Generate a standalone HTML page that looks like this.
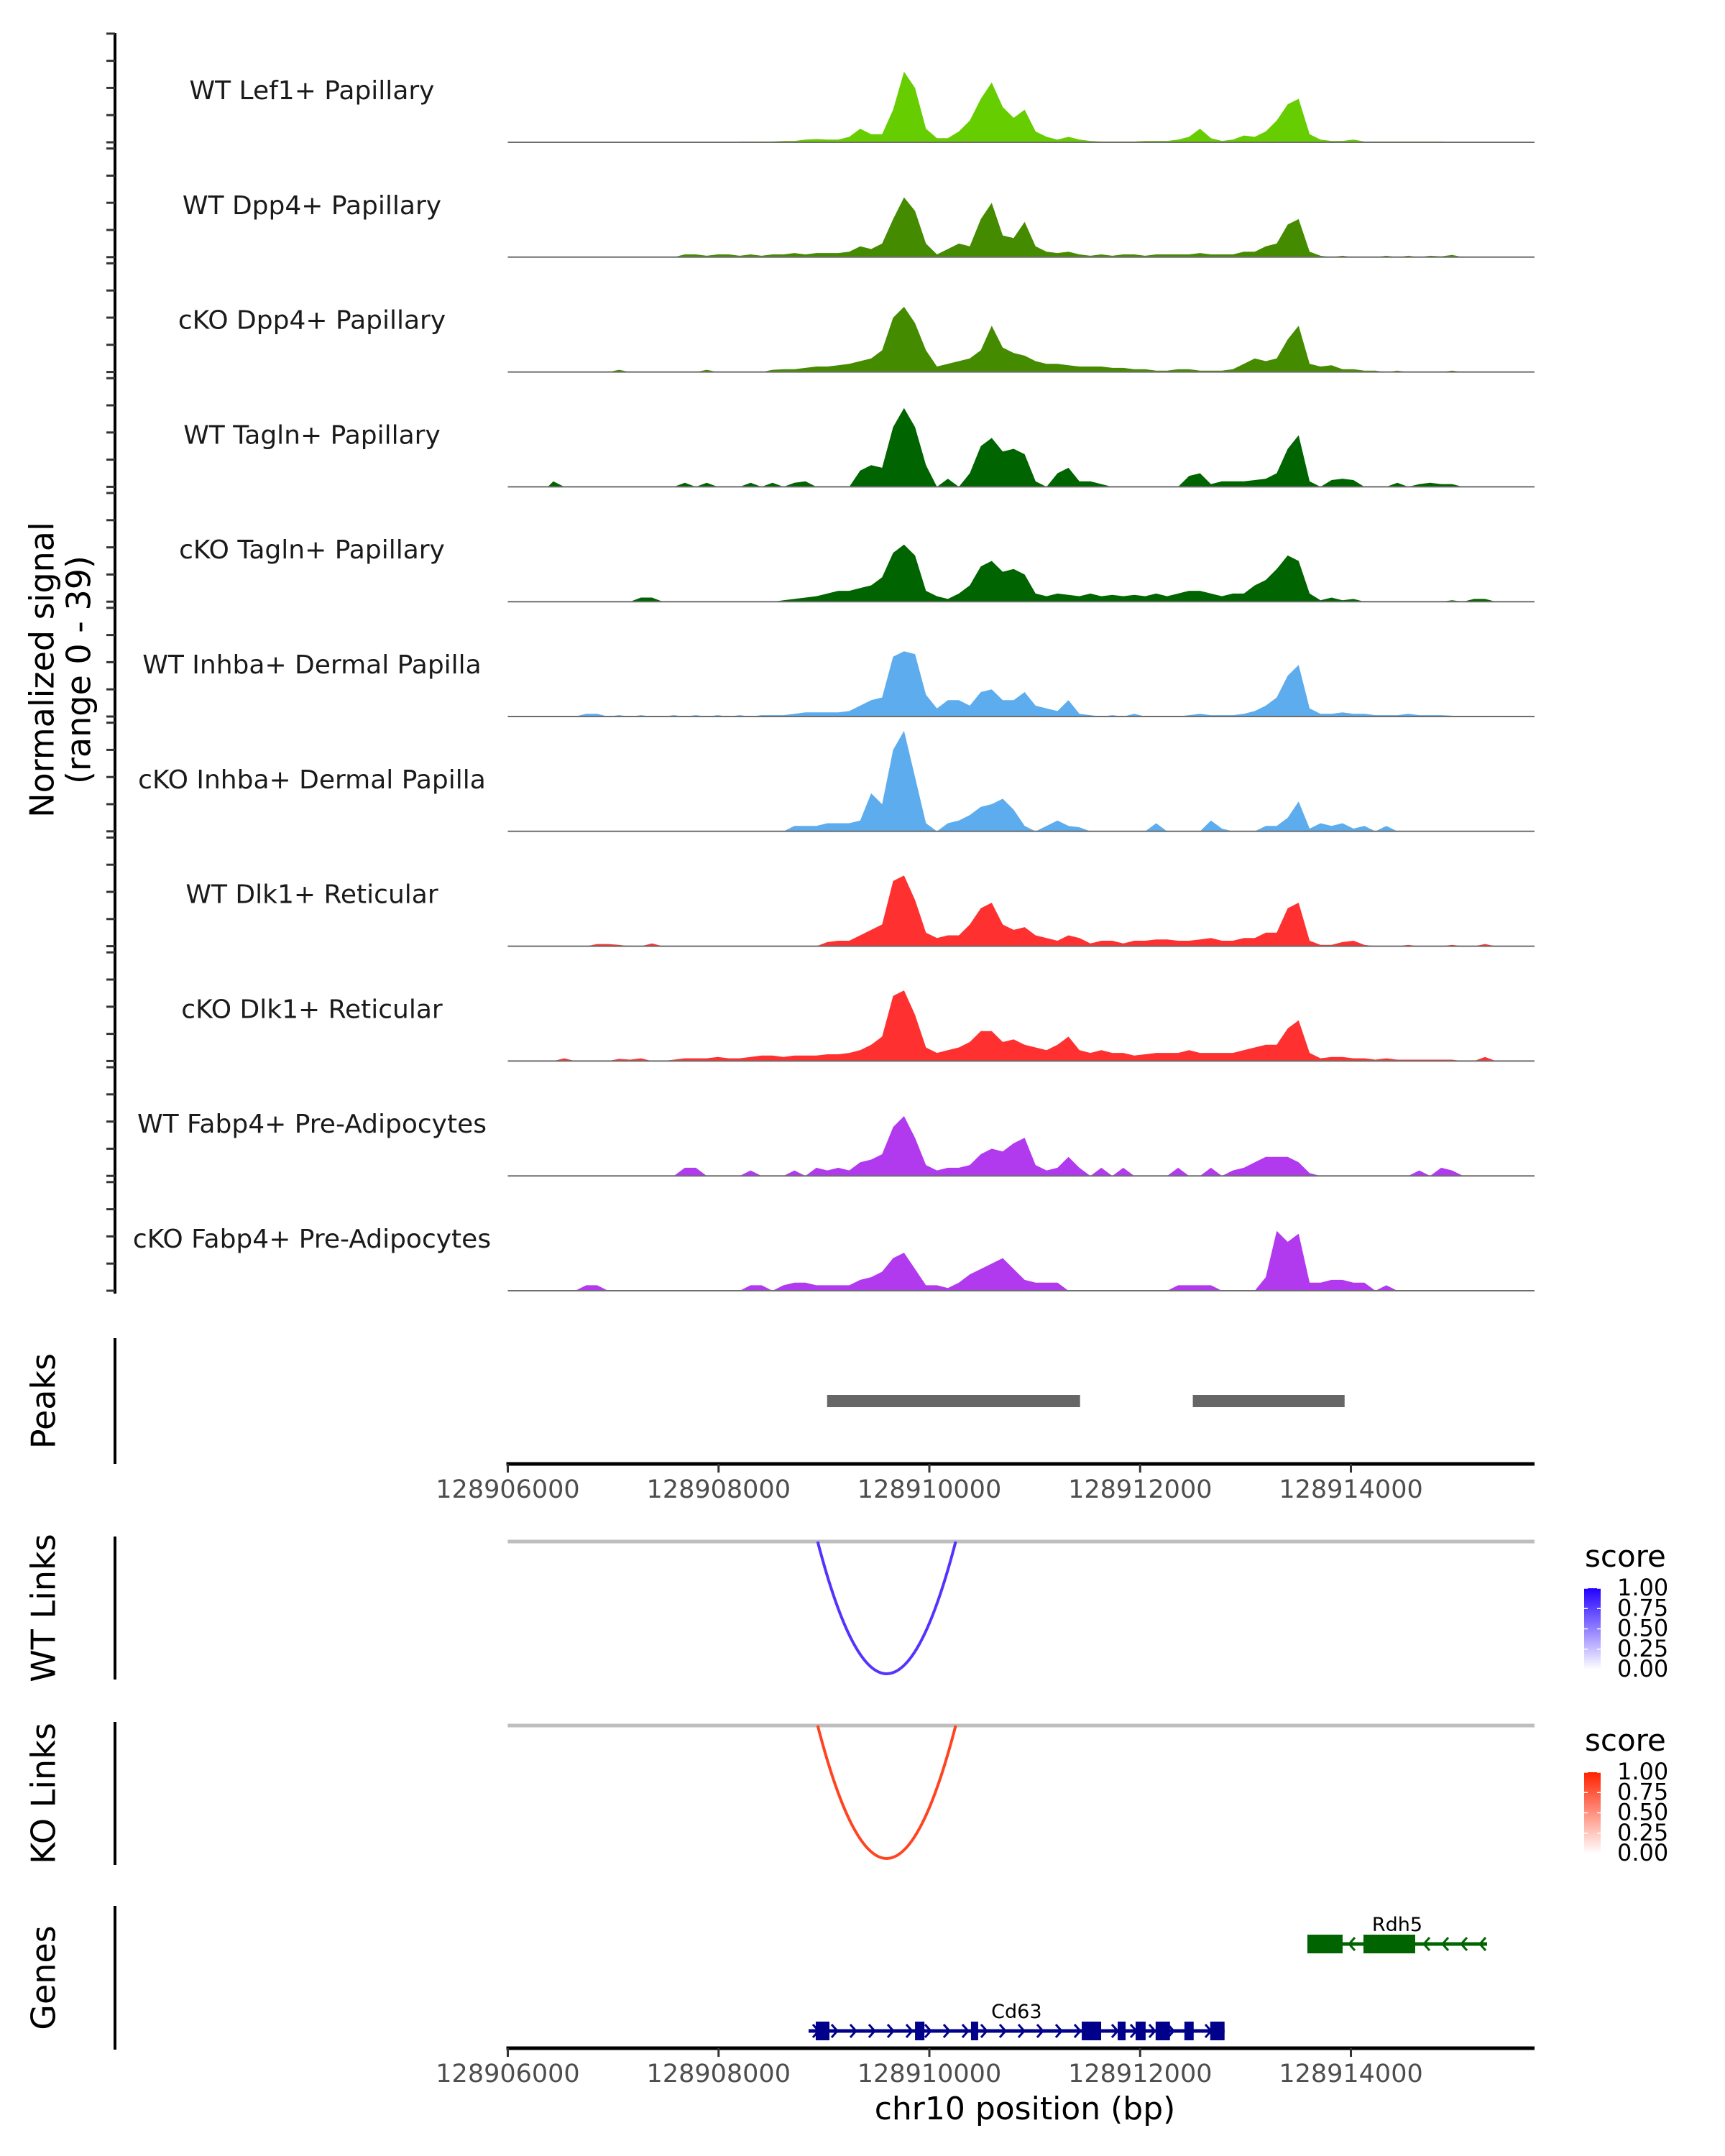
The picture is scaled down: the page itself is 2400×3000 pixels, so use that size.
<!DOCTYPE html>
<html><head><meta charset="utf-8"><style>
html,body{margin:0;padding:0;background:#fff;}
svg{display:block;font-family:"DejaVu Sans","Liberation Sans",sans-serif;}
</style></head><body>
<svg id="chart" width="2400" height="3000" viewBox="0 0 2400 3000" xmlns="http://www.w3.org/2000/svg"></svg>
<script>
// ---- data ----
const binStart = 128906380;
const binWidth = 104;
const trackNames = ["WT Lef1+ Papillary","WT Dpp4+ Papillary","cKO Dpp4+ Papillary","WT Tagln+ Papillary","cKO Tagln+ Papillary","WT Inhba+ Dermal Papilla","cKO Inhba+ Dermal Papilla","WT Dlk1+ Reticular","cKO Dlk1+ Reticular","WT Fabp4+ Pre-Adipocytes","cKO Fabp4+ Pre-Adipocytes"];
const trackColors = ["#66cd00","#458b00","#458b00","#006400","#006400","#5cacee","#5cacee","#ff3030","#ff3030","#b23aee","#b23aee"];
const sigLef1WT = [0,0,0,0,0,0,0,0,0,0, 0,0,0,0,0,0,0,0.3,0.3,0.3, 0.3,0.5,0.5,1,1.2,1,1,2,5,3, 3,12,26,20,5,1.5,1.5,4,8,16, 22,13,9,12,4,2,1,2,1,0.5, 0.3,0.3,0.3,0.3,0.5,0.5,0.5,1,2,5, 1.5,0.5,1,2.5,2,4,8,14,16,3, 1,0.5,0.5,1,0.3,0.3,0.3,0.3,0.3,0.3, 0.3,0.3,0.2,0,0,0,0,0,0,0];
const sigDpp4WT = [0,0,0,0,0,0,0,0,0,0, 0,0,1,1,0.5,1,1,0.5,1,0.5, 1,1,1.5,1,1.5,1.5,1.5,2,4,3, 5,14,22,17,5,1,3,5,4,14, 20,8,7,13,4,2,1.5,2,1,0.5, 1,0.5,1,1,0.5,1,1,1,1,1.5, 1,1,1,2,2,4,5,12,14,2, 0.5,0,0.5,0,0,0,0.5,0,0.5,0, 0.5,0.3,0.8,0,0,0,0,0,0,0];
const sigDpp4KO = [0,0,0,0,0,0,0.8,0,0,0, 0,0,0,0,0.8,0,0,0,0,0, 0.8,1,1,1.5,2,2,2.5,3,4,5, 8,20,24,18,8,2,3,4,5,8, 17,9,7,6,4,3,3,2.5,2,2, 2,1.5,1.5,1,1,0.5,0.5,1,1,0.5, 0.5,0.5,1,3,5,4,5,12,17,3, 2,2.5,1,1,0.5,0.5,0,0.5,0,0, 0,0,0.5,0,0,0,0,0,0,0];
const sigTaglnWT = [2,0,0,0,0,0,0,0,0,0, 0,0,1.5,0,1.5,0,0,0,1.5,0, 1.5,0,1.5,2,0,0,0,0,6,8, 7,22,29,22,8,0,3,0,5,15, 18,13,14,12,2,0,5,7,2,2, 1,0,0,0,0,0,0,0,4,5, 1,2,2,2,2.5,3,5,14,19,2, 0,2.5,3,2.5,0,0,0,1.5,0,1, 1.5,1,1,0,0,0,0,0,0,0];
const sigTaglnKO = [0,0,0,0,0,0,0,0,1.5,1.5, 0,0,0,0,0,0,0,0,0,0, 0,0.5,1,1.5,2,3,4,4,5,6, 9,18,21,17,4,2,1,3,6,13, 15,11,12,10,3,2,3,2.5,2,3, 2,2.5,2,2.5,2,3,2,3,4,4, 3,2,3,3,6,8,12,17,15,3, 0.5,1.5,0.5,1,0,0,0,0,0,0, 0,0,0.5,0,1,1,0,0,0,0];
const sigInhbaWT = [0,0,0,1,1,0,0.5,0,0.5,0, 0,0.5,0,0.5,0,0.5,0,0.5,0,0.5, 0.5,0.5,1,1.5,1.5,1.5,1.5,2,4,6, 7,22,24,23,8,3,6,6,4,9, 10,6,6,9,4,3,2,6,1,0.5, 0,0.5,0,1,0,0,0,0,0.5,1, 0.5,0.5,0.5,1,2,4,7,15,19,3, 1,1,1.5,1,1,0.5,0.5,0.5,1,0.5, 0.5,0.5,0.3,0,0,0,0.3,0,0,0];
const sigInhbaKO = [0,0,0,0,0,0,0,0,0,0, 0,0,0,0,0,0,0,0,0,0, 0,0,2,2,2,3,3,3,4,14, 10,30,37,20,3,0,3,4,6,9, 10,12,8,2,0,2,4,2,1.5,0, 0,0,0,0,0,3,0,0,0,0, 4,1,0,0,0,2,2,5,11,1, 3,2,3,1,2,0,2,0,0,0, 0,0,0,0,0,0,0,0,0,0];
const sigDlk1WT = [0,0,0,0,0.8,0.8,0.5,0,0,1, 0,0,0,0,0,0,0,0,0,0, 0,0,0,0,0,1.5,2,2,4,6, 8,24,26,17,5,3,4,4,8,14, 16,8,6,7,4,3,2,4,3,1, 2,2,1,2,2,2.5,2.5,2,2,2.5, 3,2,2,3,3,5,5,14,16,2, 0.5,0.5,1.5,2,0.5,0,0,0,0.5,0, 0,0,0.5,0,0,0.8,0,0,0,0];
const sigDlk1KO = [0,1,0,0,0,0,0.8,0.5,1,0, 0,0.5,1,1,1,1.5,1,1,1.5,2, 2,1.5,2,2,2,2.5,2.5,3,4,6, 9,24,26,17,5,3,4,5,7,11, 11,7,8,6,5,4,6,9,4,3, 4,3,3,2,2.5,3,3,3,4,3, 3,3,3,4,5,6,6,12,15,3, 1,1.5,1.5,1,1,0.5,1,0.5,0.5,0.5, 0.5,0.5,0.5,0,0,1.5,0,0,0,0];
const sigFabp4WT = [0,0,0,0,0,0,0,0,0,0, 0,0,3,3,0,0,0,0,2,0, 0,0,2,0,3,2,3,2,5,6, 8,18,22,14,4,2,3,3,4,8, 10,9,12,14,4,2,3,7,3,0, 3,0,3,0,0,0,0,3,0,0, 3,0,2,3,5,7,7,7,5,1, 0,0,0,0,0,0,0,0,0,2, 0,3,2,0,0,0,0,0,0,0];
const sigFabp4KO = [0,0,0,2,2,0,0,0,0,0, 0,0,0,0,0,0,0,0,2,2, 0,2,3,3,2,2,2,2,4,5, 7,12,14,8,2,2,1,3,6,8, 10,12,8,4,3,3,3,0,0,0, 0,0,0,0,0,0,0,2,2,2, 2,0,0,0,0,5,22,18,21,3, 3,4,4,3,3,0,2,0,0,0, 0,0,0,0,0,0,0,0,0,0];
const signals = [sigLef1WT,sigDpp4WT,sigDpp4KO,sigTaglnWT,sigTaglnKO,sigInhbaWT,sigInhbaKO,sigDlk1WT,sigDlk1KO,sigFabp4WT,sigFabp4KO];
const peakStarts = [128909030,128912500];
const peakEnds = [128911430,128913940];
const linkStarts = [128908940];
const linkEnds = [128910250];
const linkScores = [1.0];
const axisTicks = [128906000,128908000,128910000,128912000,128914000];
const legendTicks = ["1.00","0.75","0.50","0.25","0.00"];
const cd63Exons = [[128908922,128909052],[128909864,128909953],[128910395,128910463],[128911446,128911630],[128911787,128911862],[128911957,128912052],[128912147,128912283],[128912420,128912508],[128912665,128912801]];
const cd63Span = [128908854,128912801];
const rdh5Exons = [[128913587,128913921],[128914119,128914610]];
const rdh5Span = [128913587,128915292];

// ---- scales ----
const X0 = 706.5, PXBP = 0.14663, XR = 2135;
const xs = bp => X0 + (bp - 128906000) * PXBP;
const UNIT = 3.78;
const baseY = k => 198 + k * 159.8;

const svg = document.getElementById('chart');
const NS = 'http://www.w3.org/2000/svg';
function mk(tag, attrs, parent) {
  const e = document.createElementNS(NS, tag);
  for (const k in attrs) e.setAttribute(k, attrs[k]);
  (parent || svg).appendChild(e);
  return e;
}
function txt(s, attrs) { const t = mk('text', attrs); t.textContent = s; return t; }

let e = mk('line', {x1:160,y1:46,x2:160,y2:1800,stroke:'#000','stroke-width':4});


for (let k = 0; k < 11; k++) {
  for (let v = 0; v <= 40; v += 10) {
    const y = baseY(k) - v * UNIT;
    e = mk('line', {x1:148,y1:y,x2:160,y2:y,stroke:'#333','stroke-width':3});
    
    
  }
}
const yt = txt('Normalized signal', {transform:'translate(62,932) rotate(-90)','text-anchor':'middle','font-size':46,fill:'#000','dominant-baseline':'middle'});


const yt2 = txt('(range 0 - 39)', {transform:'translate(113,932) rotate(-90)','text-anchor':'middle','font-size':46,fill:'#000','dominant-baseline':'middle'});



signals.forEach((arr, k) => {
  const b = baseY(k);
  let d = `M${xs(binStart).toFixed(1)},${b}`;
  arr.forEach((v, i) => {
    const x = xs(binStart + i * binWidth + binWidth / 2);
    d += ` L${x.toFixed(1)},${(b - v * UNIT).toFixed(1)}`;
  });
  d += ` L${xs(binStart + arr.length * binWidth).toFixed(1)},${b} Z`;
  const p = mk('path', {d:d, fill:trackColors[k]});
  
  
  const ln = mk('line', {x1:X0,y1:b,x2:XR,y2:b,stroke:'#6e6e6e','stroke-width':2});
  
  
  const t = txt(trackNames[k], {x:434,y:b - 70,'text-anchor':'middle','dominant-baseline':'middle','font-size':36,fill:'#1a1a1a'});
  
  
});

function panel(y1, y2, title, name) {
  const l = mk('line', {x1:160,y1:y1,x2:160,y2:y2,stroke:'#000','stroke-width':4});
  
  
  const t = txt(title, {transform:`translate(64,${(y1+y2)/2}) rotate(-90)`,'text-anchor':'middle','dominant-baseline':'middle','font-size':46,fill:'#000'});
  
  
}
panel(1862, 2037, 'Peaks', 'peaks');
panel(2138, 2337, 'WT Links', 'wt-links');
panel(2396, 2595, 'KO Links', 'ko-links');
panel(2652, 2852, 'Genes', 'genes');

peakStarts.forEach((s, i) => {
  const r = mk('rect', {x:xs(s),y:1941,width:xs(peakEnds[i]) - xs(s),height:17,fill:'#666'});
  
  
});

function xAxis(y, name) {
  const l = mk('line', {x1:X0 - 2,y1:y,x2:XR,y2:y,stroke:'#000','stroke-width':5});
  
  
  axisTicks.forEach(v => {
    const tk = mk('line', {x1:xs(v),y1:y,x2:xs(v),y2:y + 12,stroke:'#333','stroke-width':3});
    
    
    const tl = txt(String(v), {x:xs(v),y:y + 37,'text-anchor':'middle','dominant-baseline':'middle','font-size':35,fill:'#4d4d4d'});
    
    
  });
}
xAxis(2037, 'peaks-x-axis');
xAxis(2850, 'genes-x-axis');
const xt = txt('chr10 position (bp)', {x:1426,y:2937,'text-anchor':'middle','dominant-baseline':'middle','font-size':44,fill:'#000'});



const defs = mk('defs', {});
function gradient(id, col) {
  const g = mk('linearGradient', {id:id,x1:0,y1:1,x2:0,y2:0}, defs);
  mk('stop', {offset:0,'stop-color':'#ffffff'}, g);
  mk('stop', {offset:1,'stop-color':col}, g);
}
gradient('gblue', '#2200ff');
gradient('gred', '#ff2200');
function links(top, bottom, col, grad, name) {
  const g = mk('line', {x1:X0,y1:top,x2:XR,y2:top,stroke:'#bebebe','stroke-width':5});
  
  
  linkStarts.forEach((s, i) => {
    const a = xs(s), b = xs(linkEnds[i]), m = (a + b) / 2;
    const depth = (bottom - top) * linkScores[i];
    const p = mk('path', {d:`M${a},${top} Q${m},${top + 2 * depth} ${b},${top}`,fill:'none',stroke:col,'stroke-width':4});
    
    
  });
  const lt = txt('score', {x:2205,y:top + 35,'font-size':42,fill:'#000'});
  
  
  const cb = mk('rect', {x:2204,y:top + 65,width:23,height:113,fill:`url(#${grad})`});
  
  
  legendTicks.forEach((s, i) => {
    const y = top + 65 + i * 28.25;
    const tl = txt(s, {x:2250,y:y + 1,'dominant-baseline':'middle','font-size':32,fill:'#000'});
    
    
    mk('line', {x1:2204,y1:y,x2:2209,y2:y,stroke:'#fff','stroke-width':1.5});
    mk('line', {x1:2222,y1:y,x2:2227,y2:y,stroke:'#fff','stroke-width':1.5});
  });
}
links(2145, 2329, '#5533ff', 'gblue', 'wt-links');
links(2401, 2586, '#ff4422', 'gred', 'ko-links');

function gene(span, exons, y, col, dir, label, name) {
  const l = mk('line', {x1:xs(span[0]),y1:y,x2:xs(span[1]),y2:y,stroke:col,'stroke-width':5});
  
  
  for (let x = xs(span[0]) + 10; x < xs(span[1]) - 5; x += 26) {
    const d = dir > 0 ? `M${x - 4},${y - 9} L${x + 4},${y} L${x - 4},${y + 9}` : `M${x + 4},${y - 9} L${x - 4},${y} L${x + 4},${y + 9}`;
    mk('path', {d:d,fill:'none',stroke:col,'stroke-width':3});
  }
  exons.forEach(ex => {
    const r = mk('rect', {x:xs(ex[0]),y:y - 13,width:xs(ex[1]) - xs(ex[0]),height:26,fill:col});
    
    
  });
  const t = txt(label, {x:xs((span[0] + span[1]) / 2),y:y - 18,'text-anchor':'middle','font-size':27,fill:'#000'});
  
  
}
gene(rdh5Span, rdh5Exons, 2705, '#006400', -1, 'Rdh5', 'rdh5');
gene(cd63Span, cd63Exons, 2826, '#00008b', 1, 'Cd63', 'cd63');
</script>
</body></html>
